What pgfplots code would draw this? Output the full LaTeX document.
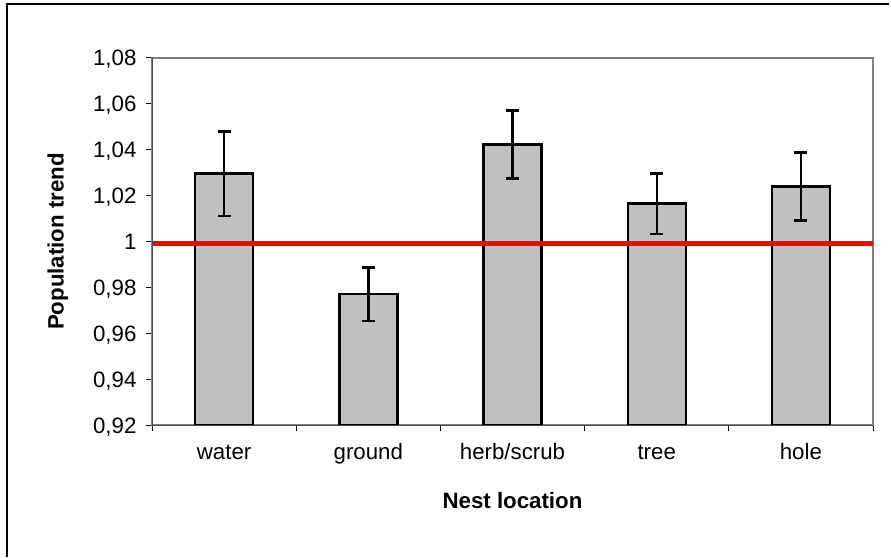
\documentclass[border=0pt]{standalone}
\usepackage{fontspec}
\setmainfont{Liberation Sans}
\usepackage{pgfplots}
\pgfplotsset{compat=1.18}
\usepackage{pgfplotstable}
\definecolor{barfill}{RGB}{192,192,192}
\definecolor{axgray}{RGB}{128,128,128}

\pgfplotstableread{
x y e
0 1.0296 0.0184
1 0.9770 0.0117
2 1.0423 0.0148
3 1.0165 0.0131
4 1.0240 0.0148
}\datatable

\begin{document}
\begin{tikzpicture}
\path[use as bounding box] (0,0) rectangle (668.25pt,417.75pt);
\draw[black, line width=0.9pt] (5.25pt,0) -- (5.25pt,414.75pt) -- (666.75pt,414.75pt);
\begin{axis}[
  at={(114pt,99pt)}, anchor=south west,
  scale only axis, width=540.75pt, height=275.25pt,
  xmin=-0.5, xmax=4.5, ymin=0.92, ymax=1.08,
  xtick={0,1,2,3,4},
  xticklabels={water,ground,herb/scrub,tree,hole},
  minor xtick={-0.5,0.5,1.5,2.5,3.5,4.5},
  major x tick style={draw=none},
  ytick={0.92,0.94,0.96,0.98,1.00,1.02,1.04,1.06,1.08},
  tick align=outside, tick pos=left,
  major tick length=4.5pt, minor tick length=4.5pt,
  minor tick style={black, line width=0.75pt},
  major y tick style={black, line width=0.75pt},
  axis line style={draw=axgray, line width=1.5pt},
  tick label style={font=\fontsize{16.7pt}{20pt}\selectfont},
  label style={font=\bfseries\fontsize{16.7pt}{20pt}\selectfont},
  yticklabel style={/pgf/number format/.cd, fixed, precision=2, use comma, assume math mode=true, /tikz/.cd, anchor=base east, inner sep=0pt, xshift=-7pt, yshift=-6pt},
  xticklabel style={anchor=base, inner sep=0pt, yshift=-21pt},
  ylabel={Population trend},
  ylabel style={at={(axis description cs:-0.1304,0.5)}, anchor=center},
  xlabel={Nest location},
  xlabel style={at={(axis description cs:0.5,-0.2071)}, anchor=center},
]
\addplot[ybar, bar width=43.5pt, fill=barfill, draw=black, line width=1.8pt,
  error bars/.cd, y dir=both, y explicit,
  error bar style={line width=1.8pt, black},
  error mark options={rotate=90, mark size=4.9pt, line width=1.8pt, black}]
  table[x=x, y=y, y error=e] {\datatable};
\addplot[red, line width=3.5pt, forget plot] coordinates {(-0.5,0.999) (4.5,0.999)};
\draw[black!70, line width=0.75pt] (axis cs:-0.5,1.08) -- (axis cs:-0.5,0.92) -- (axis cs:4.5,0.92);
\end{axis}
\end{tikzpicture}
\end{document}
